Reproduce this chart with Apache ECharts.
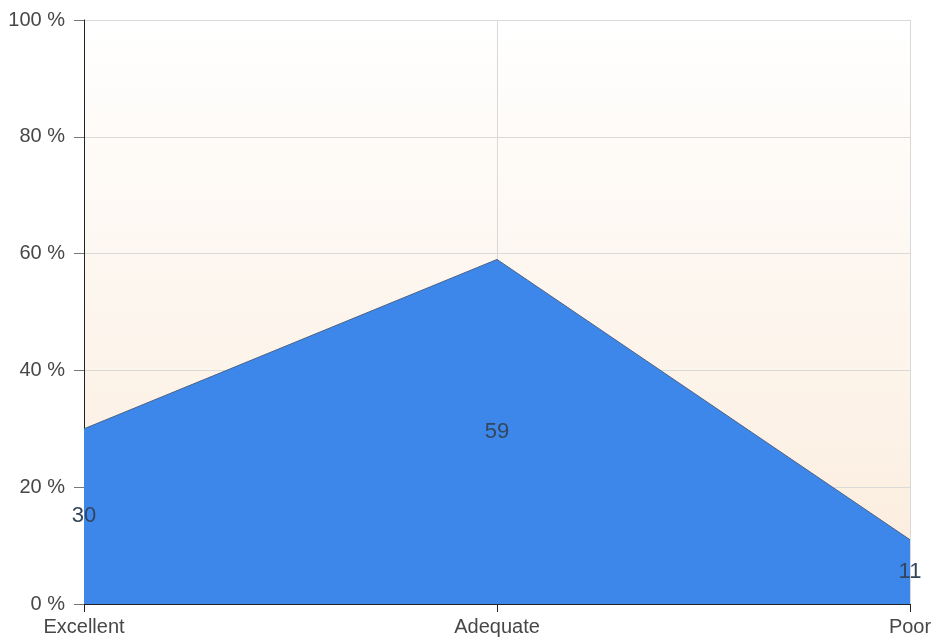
<!DOCTYPE html>
<html>
<head>
<meta charset="utf-8">
<script src="https://cdn.jsdelivr.net/npm/echarts@6/dist/echarts.min.js"></script>
<style>
  html, body { margin: 0; padding: 0; background: #fff; }
  #main { width: 937px; height: 644px; }
</style>
</head>
<body>
<div id="main"></div>
<script>
// chart data
const categories = ['Excellent', 'Adequate', 'Poor'];
const ratings = [30, 59, 11];
const yTicks = [0, 20, 40, 60, 80, 100];

const chart = echarts.init(document.getElementById('main'));

const textColor = '#474747';
const fontFamily = '"Liberation Sans", Arial, sans-serif';

chart.setOption({
    animation: false,
    grid: {
        left: 84,
        right: 27,
        top: 20,
        bottom: 40,
        show: true,
        borderWidth: 0,
        backgroundColor: new echarts.graphic.LinearGradient(0, 0, 0, 1, [
            { offset: 0, color: '#ffffff' },
            { offset: 1, color: '#fbecdc' }
        ])
    },
    xAxis: {
        type: 'category',
        data: categories,
        boundaryGap: false,
        axisLine: { lineStyle: { color: '#222', width: 1 } },
        axisTick: { show: true, alignWithLabel: true, length: 8, lineStyle: { color: '#222' } },
        axisLabel: { color: textColor, fontSize: 20, fontFamily: fontFamily, margin: 13 },
        splitLine: { show: true, lineStyle: { color: '#d9d9d9' } }
    },
    yAxis: {
        type: 'value',
        min: yTicks[0],
        max: yTicks[yTicks.length - 1],
        interval: 20,
        axisLine: { show: true, lineStyle: { color: '#222', width: 1 } },
        axisTick: { show: true, length: 10, lineStyle: { color: '#777' } },
        axisLabel: { color: textColor, fontSize: 20, fontFamily: fontFamily, margin: 19, formatter: '{value} %' },
        splitLine: { show: true, lineStyle: { color: '#d9d9d9' } }
    },
    series: [
        {
            type: 'line',
            data: ratings,
            symbol: 'none',
            lineStyle: { color: '#4a6286', width: 1 },
            areaStyle: { color: '#3d87eb', opacity: 1 },
            z: 2
        },
        {
            // labels sit halfway up each point, like the original
            type: 'line',
            data: ratings.map(v => v / 2),
            symbol: 'circle',
            symbolSize: 1,
            itemStyle: { color: 'transparent' },
            lineStyle: { width: 0, color: 'transparent' },
            silent: true,
            z: 3,
            label: {
                show: true,
                position: 'inside',
                color: '#34465c',
                fontSize: 22,
                fontFamily: fontFamily,
                formatter: p => ratings[p.dataIndex]
            }
        }
    ]
});
</script>
</body>
</html>
